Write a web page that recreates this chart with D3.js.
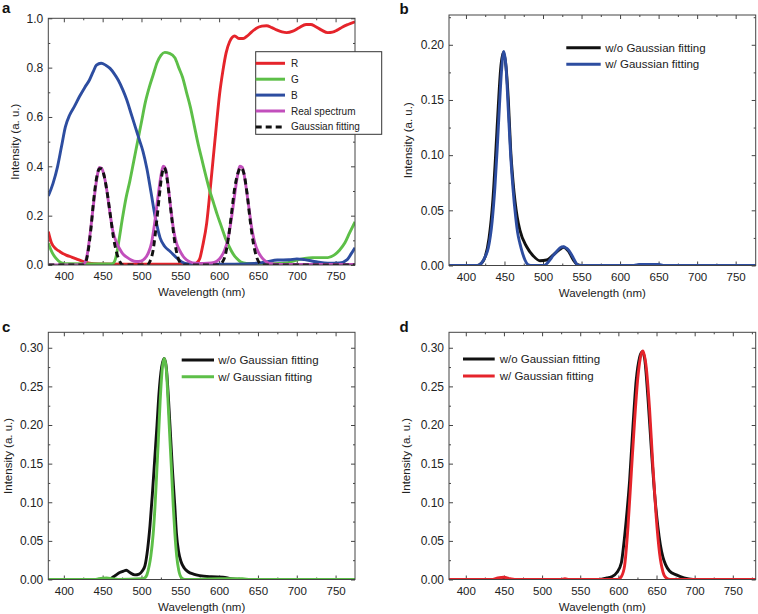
<!DOCTYPE html>
<html><head><meta charset="utf-8">
<script src="https://cdn.jsdelivr.net/npm/d3@7"></script>
<style>
body{margin:0;background:#fff;}
svg{display:block;font-family:"Liberation Sans",Arial,Helvetica,sans-serif;}
</style></head><body>
<svg id="chart" width="758" height="614"></svg>
<script>
// ---------- tick values ----------
const xTicks = [400,450,500,550,600,650,700,750];
const xMinorTicks = [425,475,525,575,625,675,725,775];
const yTicksA = [0,0.2,0.4,0.6,0.8,1.0];
const yMinorA = [0.1,0.3,0.5,0.7,0.9];
const yTicksB = [0,0.05,0.10,0.15,0.20];
const yMinorB = [0.025,0.075,0.125,0.175,0.225];
const yTicksCD = [0,0.05,0.10,0.15,0.20,0.25,0.30];
const yMinorCD = [0.025,0.075,0.125,0.175,0.225,0.275];

// ---------- panel a : filter transmittance + spectrum ----------
const seriesNamesA = ["R","G","B","Real spectrum","Gaussian fitting"];
const filterR = [[380,0.135],[384,0.09],[390,0.065],[395,0.054],[403,0.04],[410,0.032],[416,0.025],[425,0.014],[433,0.007],[445,0.004],[480,0.003],[540,0.003],[566,0.003],[571,0.008],[575,0.025],[579,0.08],[584,0.17],[588,0.29],[592,0.42],[596,0.55],[600.5,0.69],[605,0.79],[609,0.86],[613.5,0.905],[620,0.928],[626,0.918],[631,0.918],[636,0.928],[642,0.945],[648,0.96],[655,0.968],[661,0.97],[668,0.962],[674,0.953],[681,0.945],[687,0.942],[695,0.948],[703,0.962],[712,0.975],[718,0.975],[724,0.967],[732,0.952],[740,0.942],[746,0.944],[752,0.952],[759,0.965],[766,0.975],[775,0.986]];
const filterG = [[380,0.088],[385,0.05],[390,0.027],[396,0.01],[402,0.005],[460,0.004],[463,0.006],[467,0.03],[471,0.10],[475,0.18],[480,0.27],[485,0.34],[490,0.42],[495,0.50],[500,0.58],[505,0.66],[510,0.72],[515,0.77],[520,0.82],[525,0.85],[530,0.862],[536,0.858],[543,0.84],[548,0.80],[553,0.76],[558,0.70],[563,0.64],[568,0.565],[573,0.49],[578,0.425],[583,0.36],[588,0.30],[593,0.25],[598,0.20],[603,0.155],[608,0.11],[613,0.074],[618,0.045],[622.5,0.027],[628,0.012],[635,0.006],[650,0.004],[670,0.005],[685,0.008],[700,0.02],[710,0.027],[720,0.03],[730,0.03],[740,0.03],[748,0.04],[755,0.06],[762,0.09],[768,0.13],[775,0.175]];
const filterB = [[380,0.28],[386,0.33],[392,0.40],[397,0.48],[402,0.56],[407.5,0.608],[414,0.645],[420,0.682],[427,0.72],[433,0.75],[438,0.785],[442,0.81],[448,0.818],[454,0.81],[459.5,0.797],[465,0.775],[470,0.75],[476,0.71],[481,0.67],[487,0.61],[492,0.56],[497,0.51],[502,0.46],[507,0.39],[512,0.30],[518,0.19],[524,0.11],[530,0.075],[537,0.055],[545,0.03],[552,0.012],[558,0.005],[570,0.003],[620,0.003],[645,0.006],[660,0.012],[675,0.02],[690,0.021],[700,0.025],[710,0.022],[725,0.013],[740,0.007],[755,0.008],[765,0.022],[770,0.045],[775,0.07]];
const realSpectrum = [[380,0],[420,0],[426,0.005],[430,0.04],[434,0.13],[438,0.24],[442,0.34],[446,0.395],[449,0.39],[452,0.36],[455,0.31],[459,0.22],[463,0.14],[468,0.09],[472,0.065],[476,0.045],[481,0.032],[487,0.02],[493,0.014],[499,0.016],[504,0.025],[509,0.05],[513,0.09],[517,0.17],[521,0.27],[525,0.36],[528,0.40],[531,0.39],[534,0.33],[537,0.25],[541,0.15],[545,0.09],[549,0.06],[555,0.03],[562,0.013],[570,0.007],[580,0.006],[590,0.008],[597,0.015],[603,0.035],[607,0.06],[611,0.10],[615,0.17],[619,0.26],[623,0.35],[627,0.40],[630,0.395],[634,0.33],[638,0.24],[642,0.15],[646,0.09],[650,0.055],[655,0.03],[660,0.015],[665,0.006],[672,0.003],[680,0.002],[775,0.002]];
const gaussFitA = [[380,0],[424,0],[428,0.01],[431,0.05],[435,0.15],[438,0.25],[442,0.35],[446,0.39],[449,0.39],[452,0.36],[456,0.29],[460,0.2],[464,0.11],[468,0.05],[472,0.015],[476,0],[507,0],[511,0.015],[515,0.06],[519,0.16],[523,0.28],[526,0.36],[529,0.395],[532,0.37],[535,0.30],[539,0.19],[543,0.09],[547,0.03],[551,0.005],[555,0],[600,0],[604,0.01],[608,0.04],[612,0.11],[616,0.21],[620,0.31],[624,0.37],[628,0.395],[632,0.37],[636,0.29],[640,0.18],[644,0.09],[648,0.035],[652,0.008],[656,0],[775,0]];

// ---------- panels b, c, d : w/o and w/ Gaussian fitting ----------
const legendBCD = ["w/o Gaussian fitting","w/ Gaussian fitting"];
const blueWithout = [[378,0],[415,0],[420,0.002],[425,0.008],[430,0.025],[435,0.06],[438.5,0.1],[442,0.145],[445,0.178],[448.5,0.193],[452,0.18],[455,0.15],[458,0.105],[461.3,0.0745],[466.5,0.044],[470,0.032],[478.8,0.017],[487.4,0.0087],[496,0.0043],[504.8,0.005],[513.4,0.0097],[522,0.0147],[526.4,0.0166],[533,0.013],[539.4,0.005],[544,0.001],[550,0],[620,0],[630,0.001],[645,0.001],[655,0],[776,0]];
const blueWith = [[378,0],[415,0],[420,0.002],[425,0.008],[429,0.016],[434,0.04],[437.5,0.07],[440.5,0.105],[443.5,0.145],[446,0.175],[449,0.194],[452,0.18],[455,0.14],[458,0.10],[461,0.07],[464.5,0.044],[467,0.03],[470,0.02],[473.5,0.011],[476.6,0.005],[480,0.001],[484,0],[500,0],[504,0.001],[509,0.005],[513,0.009],[517.8,0.0127],[522,0.016],[526.4,0.017],[530,0.0158],[533,0.014],[539.4,0.0067],[543,0.002],[546,0],[618,0],[625,0.001],[650,0.001],[656,0],[776,0]];
const greenWithout = [[380,0],[455,0],[460,0.001],[466,0.005],[472,0.009],[477,0.011],[480.5,0.012],[485,0.009],[491.6,0.006],[497,0.007],[501,0.011],[504.5,0.018],[508,0.04],[511,0.07],[514,0.11],[517,0.155],[520,0.2],[522.5,0.24],[526,0.275],[529.4,0.286],[532,0.274],[535,0.23],[537.5,0.185],[540,0.14],[543,0.094],[545,0.06],[548,0.035],[551,0.023],[555,0.015],[560,0.01],[567,0.007],[575,0.005],[590,0.0035],[605,0.003],[615,0.001],[625,0],[775,0]];
const greenWith = [[380,0],[440,0],[445,0.001],[455,0.002],[462,0.001],[470,0],[500,0.001],[504,0.002],[507,0.006],[510,0.018],[512,0.03],[515,0.058],[517.4,0.094],[519.5,0.135],[521.7,0.18],[524,0.23],[527,0.275],[529.4,0.286],[532,0.272],[534.5,0.225],[536.7,0.18],[539,0.135],[541,0.094],[543,0.06],[545.4,0.03],[548,0.012],[551.8,0.002],[556,0],[600,0.001],[630,0.001],[640,0],[775,0]];
const redWithout = [[378,0],[575,0],[585,0.002],[591,0.0035],[598,0.009],[604,0.022],[607,0.045],[610.3,0.077],[614.8,0.129],[619.1,0.198],[623.4,0.258],[627.9,0.288],[631.3,0.295],[634.4,0.286],[638.7,0.236],[643,0.172],[647.5,0.111],[651.8,0.068],[655,0.045],[658.4,0.029],[662,0.019],[667,0.011],[676,0.006],[686,0.002],[698,0],[780,0]];
const redWith = [[378,0],[435,0],[442,0.002],[450,0.003],[458,0.001],[464,0],[525,0],[530,0.001],[535,0],[599,0],[604,0.004],[608.2,0.018],[612.6,0.068],[616.9,0.137],[621.3,0.206],[625.6,0.262],[630,0.292],[632.2,0.296],[636.5,0.275],[641,0.219],[645.3,0.146],[649.6,0.081],[654,0.034],[658.4,0.01],[662.7,0.002],[668,0],[780,0]];

// ---------- drawing ----------
const svg = d3.select("#chart");
const frameColor = "#444";
const textColor = "#222";
const C = {red:"#e5242b", green:"#5dbf48", blue:"#2d4da0", magenta:"#c24fbc", black:"#111"};

function drawPanel(p){
  const g = svg.append("g");
  const x = d3.scaleLinear().domain(p.xDomain).range([p.left, p.right]);
  const y = d3.scaleLinear().domain(p.yDomain).range([p.bottom, p.top]);
  const xMinor = xMinorTicks.filter(v => v > p.xDomain[0] + 1 && v < p.xDomain[1] - 1);

  const style = sel => {
    sel.select(".domain").remove();
    sel.selectAll("line").attr("stroke", frameColor).attr("stroke-width", 1);
    sel.selectAll("text").attr("fill", textColor);
    sel.attr("font-family", null);
  };
  // bottom
  g.append("g").attr("transform",`translate(0,${p.bottom})`)
    .call(d3.axisBottom(x).tickValues(xTicks).tickSize(-4).tickPadding(7).tickFormat(d3.format("d")))
    .call(style).attr("font-size", 11.5);
  g.append("g").attr("transform",`translate(0,${p.bottom})`)
    .call(d3.axisBottom(x).tickValues(xMinor).tickSize(-2).tickFormat("")).call(style);
  // top
  g.append("g").attr("transform",`translate(0,${p.top})`)
    .call(d3.axisTop(x).tickValues(xTicks).tickSize(-4).tickFormat("")).call(style);
  g.append("g").attr("transform",`translate(0,${p.top})`)
    .call(d3.axisTop(x).tickValues(xMinor).tickSize(-2).tickFormat("")).call(style);
  // left
  g.append("g").attr("transform",`translate(${p.left},0)`)
    .call(d3.axisLeft(y).tickValues(p.yTicks).tickSize(-4).tickPadding(5).tickFormat(d3.format(p.yFormat)))
    .call(style).attr("font-size", 12);
  g.append("g").attr("transform",`translate(${p.left},0)`)
    .call(d3.axisLeft(y).tickValues(p.yMinor).tickSize(-2).tickFormat("")).call(style);
  // right
  g.append("g").attr("transform",`translate(${p.right},0)`)
    .call(d3.axisRight(y).tickValues(p.yTicks).tickSize(-4).tickFormat("")).call(style);
  g.append("g").attr("transform",`translate(${p.right},0)`)
    .call(d3.axisRight(y).tickValues(p.yMinor).tickSize(-2).tickFormat("")).call(style);

  // curves
  const clipId = "clip-" + p.label;
  g.append("clipPath").attr("id", clipId).append("rect")
    .attr("x", p.left).attr("y", p.top).attr("width", p.right - p.left).attr("height", p.bottom - p.top);
  const line = d3.line().x(d => x(d[0])).y(d => y(d[1])).curve(d3.curveMonotoneX);
  const curves = g.append("g").attr("clip-path", `url(#${clipId})`);
  p.series.forEach(s => {
    curves.append("path").datum(s.data)
      .attr("fill","none").attr("stroke", s.color).attr("stroke-width", 2.9)
      .attr("stroke-linejoin","round")
      .attr("stroke-dasharray", s.dash || null)
      .attr("d", line);
  });

  // frame
  g.append("rect").attr("x", p.left).attr("y", p.top)
    .attr("width", p.right - p.left).attr("height", p.bottom - p.top)
    .attr("fill","none").attr("stroke", frameColor).attr("stroke-width", 1);

  // axis titles
  g.append("text").attr("x", (p.left + p.right)/2).attr("y", p.bottom + 31)
    .attr("text-anchor","middle").attr("font-size", 11.5).attr("fill", textColor)
    .text("Wavelength (nm)");
  g.append("text")
    .attr("transform", `translate(${p.yTitleX},${(p.top + p.bottom)/2}) rotate(-90)`)
    .attr("text-anchor","middle").attr("font-size", 11.5).attr("fill", textColor)
    .text("Intensity (a. u.)");

  // panel letter
  g.append("text").attr("x", p.labelX).attr("y", p.labelY)
    .attr("font-size", 15).attr("font-weight","bold").attr("fill","#111")
    .text(p.label);

  // legend
  const L = p.legend;
  const lg = svg.append("g");
  if (L.box) {
    lg.append("rect").attr("x", L.box[0]).attr("y", L.box[1]).attr("width", L.box[2]).attr("height", L.box[3])
      .attr("fill","#fff").attr("stroke","#333").attr("stroke-width",1);
  }
  L.items.forEach((it, i) => {
    const yy = L.y0 + i * L.dy;
    lg.append("line").attr("x1", L.x1).attr("x2", L.x2).attr("y1", yy).attr("y2", yy)
      .attr("stroke", it.color).attr("stroke-width", 3)
      .attr("stroke-dasharray", it.dash || null);
    lg.append("text").attr("x", L.tx).attr("y", yy).attr("dy","0.35em")
      .attr("font-size", L.fontSize).attr("fill", textColor).text(it.name);
  });
}

const seriesA = [
  {name: seriesNamesA[0], data: filterR, color: C.red},
  {name: seriesNamesA[1], data: filterG, color: C.green},
  {name: seriesNamesA[2], data: filterB, color: C.blue},
  {name: seriesNamesA[3], data: realSpectrum, color: C.magenta},
  {name: seriesNamesA[4], data: gaussFitA, color: C.black, dash: "6,4"}
];

drawPanel({
  label:"a", labelX:2, labelY:12.5,
  left:48.3, right:355, top:18.3, bottom:265,
  xDomain:[380,775], yDomain:[0,1.0], yTicks:yTicksA, yMinor:yMinorA, yFormat:".1f",
  yTitleX:18.5,
  series: seriesA,
  legend:{box:[255.7,51.7,126,82.6], x1:255.7, x2:285, tx:291, y0:63.3, dy:15.9, fontSize:10,
          items: seriesA.map(s => ({name:s.name, color:s.color, dash:s.dash}))}
});

drawPanel({
  label:"b", labelX:399.5, labelY:13.5,
  left:449, right:755.7, top:15, bottom:265.5,
  xDomain:[378,776], yDomain:[0,0.227], yTicks:yTicksB, yMinor:yMinorB, yFormat:".2f",
  yTitleX:412,
  series:[{data:blueWithout, color:C.black},{data:blueWith, color:C.blue}],
  legend:{x1:566.3, x2:600.7, tx:605.3, y0:47.7, dy:16.6, fontSize:11.5,
          items:[{name:legendBCD[0], color:C.black},{name:legendBCD[1], color:C.blue}]}
});

drawPanel({
  label:"c", labelX:2, labelY:331.5,
  left:48.3, right:355, top:332.3, bottom:579.5,
  xDomain:[380,775], yDomain:[0,0.32], yTicks:yTicksCD, yMinor:yMinorCD, yFormat:".2f",
  yTitleX:12,
  series:[{data:greenWithout, color:C.black},{data:greenWith, color:C.green}],
  legend:{x1:181.7, x2:214, tx:218.3, y0:360, dy:16.7, fontSize:11.5,
          items:[{name:legendBCD[0], color:C.black},{name:legendBCD[1], color:C.green}]}
});

drawPanel({
  label:"d", labelX:399.5, labelY:331.5,
  left:449, right:755.7, top:332.3, bottom:579.5,
  xDomain:[378,780], yDomain:[0,0.32], yTicks:yTicksCD, yMinor:yMinorCD, yFormat:".2f",
  yTitleX:410,
  series:[{data:redWithout, color:C.black},{data:redWith, color:C.red}],
  legend:{x1:463, x2:494.7, tx:499.7, y0:359, dy:17, fontSize:11.5,
          items:[{name:legendBCD[0], color:C.black},{name:legendBCD[1], color:C.red}]}
});
</script>
</body></html>
